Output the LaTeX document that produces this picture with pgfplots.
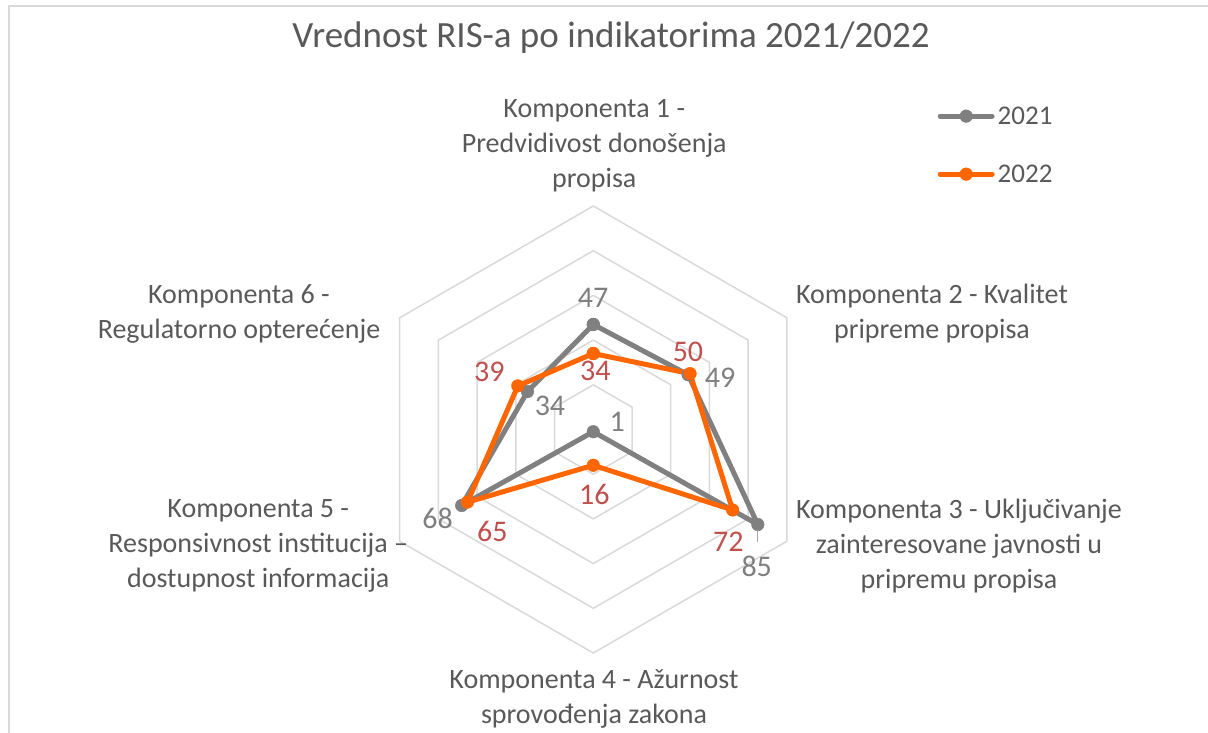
\documentclass[border=0pt]{standalone}
\usepackage{fontspec}
\setmainfont{Carlito}
\usepackage{pgfplots}
\pgfplotsset{compat=1.18}
\usepgfplotslibrary{polar}
\usepackage{pgfplotstable}

\definecolor{gridc}{HTML}{D9D9D9}
\definecolor{ser1}{HTML}{808080}
\definecolor{ser2}{HTML}{FF6600}
\definecolor{lab1}{HTML}{7F7F7F}
\definecolor{lab2}{HTML}{C0504D}
\definecolor{txt}{HTML}{595959}

\newcommand\titlefont{\fontsize{37}{44}\selectfont}
\newcommand\catfont{\fontsize{28}{35}\selectfont}
\newcommand\datafont{\fontsize{30}{36}\selectfont}
\newcommand\legfont{\fontsize{27}{32}\selectfont}

% angle radius label xshift yshift
\pgfplotstableread{
a r lab dx dy
90 47 47 -0.3 26.5
30 49 49 31.9 -3.3
330 85 85 -1.1 -42.2
270 1 1 24 9.4
210 68 68 -24 -12.8
150 34 34 22.5 -14.2
90 47 {} 0 0
}\dataA

\pgfplotstableread{
a r lab dx dy
90 34 34 2 -17.5
30 50 50 -2.1 21.9
330 72 72 -4.3 -31.8
270 16 16 1 -29.7
210 65 65 24.8 -29.6
150 39 39 -28.5 14.2
90 34 {} 0 0
}\dataB

\begin{document}
\begin{tikzpicture}
\begin{polaraxis}[
  at={(0pt,0pt)}, anchor=center,
  scale only axis, width=447pt, height=447pt,
  xmin=0, xmax=360, ymin=0, ymax=100,
  hide axis, clip=false,
  legend image code/.code={\draw[mark repeat=2,mark phase=2,#1] plot coordinates {(0pt,0pt)(26pt,0pt)(52pt,0pt)};},
  legend style={at={(axis description cs:1.270,1.229)}, anchor=north west,
    draw=none, fill=none, inner sep=0pt, row sep=33.4pt, column sep=3pt,
    font=\legfont, nodes={inner sep=0pt, text height=21pt, text depth=3.6pt}},
  legend cell align=left,
]
\addplot[gridc, line width=1.5pt, forget plot] coordinates {(90,20)(30,20)(330,20)(270,20)(210,20)(150,20)(90,20)};
\addplot[gridc, line width=1.5pt, forget plot] coordinates {(90,40)(30,40)(330,40)(270,40)(210,40)(150,40)(90,40)};
\addplot[gridc, line width=1.5pt, forget plot] coordinates {(90,60)(30,60)(330,60)(270,60)(210,60)(150,60)(90,60)};
\addplot[gridc, line width=1.5pt, forget plot] coordinates {(90,80)(30,80)(330,80)(270,80)(210,80)(150,80)(90,80)};
\addplot[gridc, line width=1.5pt, forget plot] coordinates {(90,100)(30,100)(330,100)(270,100)(210,100)(150,100)(90,100)};

\addplot[ser1, line width=5pt, line join=round, line cap=round,
  mark=*, mark size=6.3pt, mark options={solid, line width=0.5pt, fill=ser1},
  nodes near coords, point meta=explicit symbolic,
  visualization depends on={\thisrow{dx}\as\dx},
  visualization depends on={\thisrow{dy}\as\dy},
  every node near coord/.append style={anchor=center, xshift=\dx pt, yshift=\dy pt,
     font=\datafont, text=lab1, inner sep=0pt}]
  table[x=a, y=r, meta=lab] {\dataA};
\addlegendentry{\textcolor{txt}{2021}}

\addplot[ser2, line width=5pt, line join=round, line cap=round,
  mark=*, mark size=6.3pt, mark options={solid, line width=0.5pt, fill=ser2},
  nodes near coords, point meta=explicit symbolic,
  visualization depends on={\thisrow{dx}\as\dx},
  visualization depends on={\thisrow{dy}\as\dy},
  every node near coord/.append style={anchor=center, xshift=\dx pt, yshift=\dy pt,
     font=\datafont, text=lab2, inner sep=0pt}]
  table[x=a, y=r, meta=lab] {\dataB};
\addlegendentry{\textcolor{txt}{2022}}
\end{polaraxis}

% leader line for the 85 label
\draw[lab1!70, line width=1pt] (164.4pt,-100pt) -- (164.4pt,-112pt);

% title
\node[anchor=base, text=txt, font=\titlefont, inner sep=0pt] at (17.7pt,381.5pt) {Vrednost RIS-a po indikatorima 2021/2022};

% category labels
\begin{scope}[every node/.style={text=txt, font=\catfont, align=center, inner sep=0pt}]
\node at (1pt,283.5pt) {Komponenta 1 -\\Predvidivost donošenja\\propisa};
\node at (338.7pt,116pt) {Komponenta 2 - Kvalitet\\pripreme propisa};
\node at (365.7pt,-116.5pt) {Komponenta 3 - Uključivanje\\zainteresovane javnosti u\\pripremu propisa};
\node at (0.7pt,-269.5pt) {Komponenta 4 - Ažurnost\\sprovođenja zakona};
\node at (-335pt,-116.5pt) {Komponenta 5 -\\Responsivnost institucija –\\dostupnost informacija};
\node at (-354.3pt,115.5pt) {Komponenta 6 -\\Regulatorno opterećenje};
\end{scope}

% chart border (left and top edges visible)
\draw[gridc, line width=2pt] (-584.3pt,-320pt) -- (-584.3pt,423.5pt) -- (630pt,423.5pt);

\pgfresetboundingbox
\useasboundingbox (-593.3pt,-302.5pt) rectangle (614.7pt,429.5pt);
\end{tikzpicture}
\end{document}
